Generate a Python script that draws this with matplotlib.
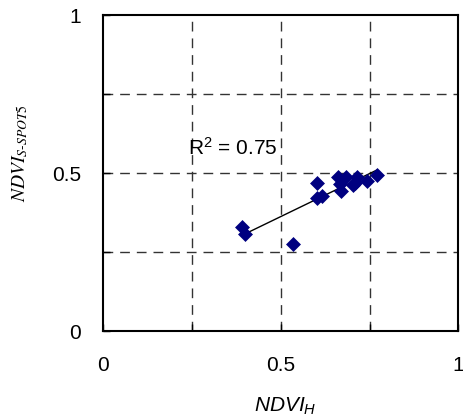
import numpy as np
import matplotlib
matplotlib.use("Agg")
import matplotlib.pyplot as plt

plt.rcParams['font.family'] = ['Liberation Sans', 'DejaVu Sans']
plt.rcParams['mathtext.fontset'] = 'custom'
plt.rcParams['mathtext.it'] = 'Liberation Sans:italic'
plt.rcParams['mathtext.rm'] = 'Liberation Sans'

# NDVI from hyperspectral (H) vs. simulated SPOT5 NDVI
ndvi_h = [0.391, 0.400, 0.535, 0.602, 0.602, 0.616, 0.660, 0.668, 0.671,
          0.683, 0.702, 0.709, 0.716, 0.742, 0.770]
ndvi_spot5 = [0.330, 0.307, 0.274, 0.470, 0.422, 0.427, 0.488, 0.465, 0.444,
              0.488, 0.462, 0.469, 0.488, 0.476, 0.494]
r2_text = "R$^2$ = 0.75"
tick_vals = [0, 0.5, 1]
tick_labels = ["0", "0.5", "1"]
grid_vals = [0.25, 0.5, 0.75]

fig = plt.figure(figsize=(4.64, 4.19), dpi=100)
ax = fig.add_axes([0.222, 0.210, 0.766, 0.754])

x = np.array(ndvi_h)
y = np.array(ndvi_spot5)
ax.scatter(x, y, marker='D', s=58, color='#000080', zorder=3, linewidths=0)

# linear trend line over the data range
slope, intercept = np.polyfit(x, y, 1)
xs = np.array([x.min(), x.max()])
ax.plot(xs, slope * xs + intercept, color='black', lw=1, zorder=2)

for g in grid_vals:
    ax.axhline(g, color='#333333', lw=1, dashes=(7, 5), zorder=1)
    ax.axvline(g, color='#333333', lw=1, dashes=(7, 5), zorder=1)

ax.set_xlim(0, 1)
ax.set_ylim(0, 1)
ax.set_xticks(tick_vals)
ax.set_xticklabels(tick_labels)
ax.set_yticks(tick_vals)
ax.set_yticklabels(tick_labels)
ax.set_xticks(grid_vals, minor=True)
ax.set_yticks(grid_vals, minor=True)
ax.tick_params(which='both', direction='in', length=5, width=1, labelsize=15)
ax.tick_params(axis='x', pad=18)
ax.tick_params(axis='y', pad=16)
for s in ax.spines.values():
    s.set_linewidth(1.5)

ax.text(0.24, 0.58, r2_text, fontsize=15, va='center')

fig.text(0.615, 0.03, r"$NDVI_H$", fontsize=15, ha='center', va='center')
fig.text(0.043, 0.635, r"$NDVI_{S\text{-}SPOT5}$", fontsize=14, rotation=90,
         ha='center', va='center', math_fontfamily='stix')

fig.savefig("out.png", dpi=100)
